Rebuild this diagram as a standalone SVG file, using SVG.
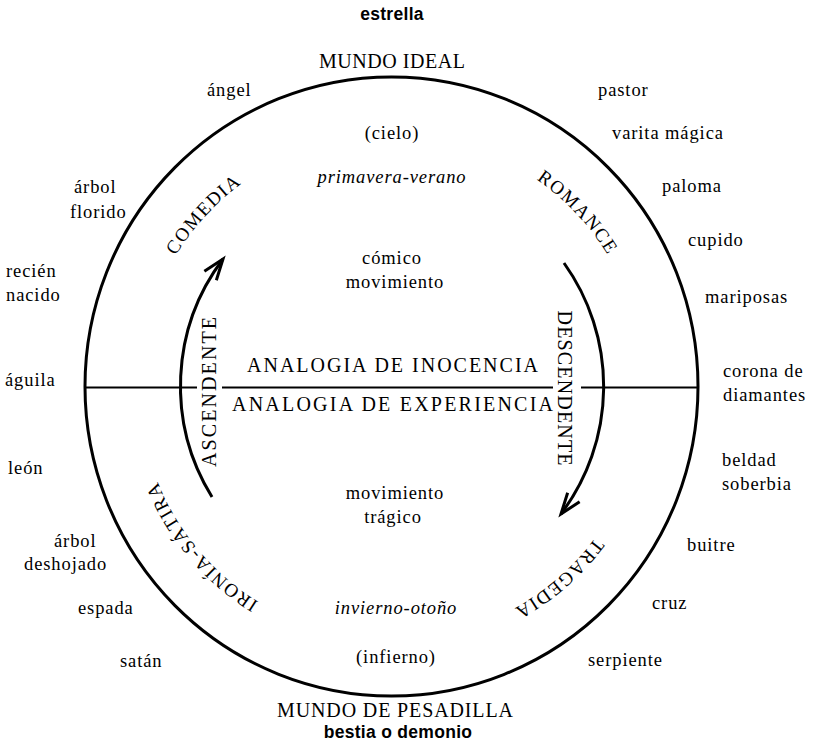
<svg xmlns="http://www.w3.org/2000/svg" width="813" height="745" viewBox="0 0 813 745">
<style>
.t{font-family:"Liberation Serif","Times New Roman",serif;font-size:18.5px;fill:#000;letter-spacing:0.9px}
.i{font-style:italic}
.c{text-anchor:middle}
.big{font-family:"Liberation Serif","Times New Roman",serif;font-size:20px;fill:#000}
.arc{font-family:"Liberation Serif","Times New Roman",serif;font-size:19px;fill:#000;letter-spacing:1.5px}
.b{font-family:"Liberation Sans",Arial,sans-serif;font-weight:bold;font-size:17.5px;fill:#000;text-anchor:middle;letter-spacing:0.3px}
.ln{fill:none;stroke:#000}
</style>
<defs>
<marker id="ah" markerUnits="userSpaceOnUse" markerWidth="30" markerHeight="30" viewBox="-16 -10 20 20" refX="0" refY="0" orient="auto">
<path d="M -14,-5 L 0,0 L -14,5" fill="none" stroke="#000" stroke-width="2"/>
</marker>
<path id="ring" d="M 645,387 A 253 253 0 1 1 139,387 A 253 253 0 1 1 645,387"/>
</defs>

<g id="frame">
<ellipse class="ln" cx="391.5" cy="386.5" rx="306.5" ry="309.5" stroke-width="3"/>
</g>

<g id="connectors">
<path class="ln" stroke-width="2.2" d="M 85,387.5 H 197 M 222,387.5 H 553 M 581,387.5 H 698"/>
<path class="ln" stroke-width="3" d="M 212,497 A 211 211 0 0 1 223,259" marker-end="url(#ah)"/>
<path class="ln" stroke-width="3" d="M 564,263 A 212 212 0 0 1 561,514" marker-end="url(#ah)"/>
</g>

<g id="top">
<text class="b" x="392" y="20">estrella</text>
<text class="big c" x="392" y="68" textLength="146" lengthAdjust="spacing">MUNDO IDEAL</text>
</g>
<g id="bottom">
<text class="big c" x="395" y="717" textLength="236" lengthAdjust="spacing">MUNDO DE PESADILLA</text>
<text class="b" x="398" y="738">bestia o demonio</text>
</g>

<g id="left-labels">
<text class="t" x="207" y="96">ángel</text>
<text class="t" x="74" y="193">árbol</text>
<text class="t" x="70" y="218">florido</text>
<text class="t" x="6" y="277">recién</text>
<text class="t" x="6" y="301">nacido</text>
<text class="t" x="5" y="386">águila</text>
<text class="t" x="8" y="474">león</text>
<text class="t" x="54" y="547">árbol</text>
<text class="t" x="24" y="570">deshojado</text>
<text class="t" x="78" y="614">espada</text>
<text class="t" x="120" y="667">satán</text>
</g>

<g id="right-labels">
<text class="t" x="598" y="96">pastor</text>
<text class="t" x="612" y="139">varita mágica</text>
<text class="t" x="662" y="192">paloma</text>
<text class="t" x="688" y="246">cupido</text>
<text class="t" x="705" y="303">mariposas</text>
<text class="t" x="723" y="377">corona de</text>
<text class="t" x="723" y="401">diamantes</text>
<text class="t" x="722" y="466">beldad</text>
<text class="t" x="722" y="490">soberbia</text>
<text class="t" x="687" y="551">buitre</text>
<text class="t" x="652" y="609">cruz</text>
<text class="t" x="588" y="666">serpiente</text>
</g>

<g id="inner">
<text class="t c" x="392" y="139">(cielo)</text>
<text class="t i c" x="392" y="183">primavera-verano</text>
<text class="t c" x="392" y="264">cómico</text>
<text class="t c" x="395" y="288">movimiento</text>
<text class="t c" x="395" y="499">movimiento</text>
<text class="t c" x="393" y="523">trágico</text>
<text class="t i c" x="396" y="614">invierno-otoño</text>
<text class="t c" x="396" y="663">(infierno)</text>
</g>

<g id="analogia">
<text class="big" x="247" y="372" textLength="291" lengthAdjust="spacing">ANALOGIA DE INOCENCIA</text>
<text class="big" x="232" y="411" textLength="321" lengthAdjust="spacing">ANALOGIA DE EXPERIENCIA</text>
</g>

<g id="directions">
<text class="big c" transform="translate(216,392) rotate(-90)" textLength="150" lengthAdjust="spacing">ASCENDENTE</text>
<text class="big c" transform="translate(558,388) rotate(90)" textLength="155" lengthAdjust="spacing">DESCENDENTE</text>
</g>

<g id="modes">
<text class="arc c"><textPath href="#ring" startOffset="61.8%">COMEDIA</textPath></text>
<text class="arc c"><textPath href="#ring" startOffset="88.0%">ROMANCE</textPath></text>
<text class="arc c"><textPath href="#ring" startOffset="13.6%">TRAGEDIA</textPath></text>
<text class="arc c"><textPath href="#ring" startOffset="38.9%">IRONÍA-SÁTIRA</textPath></text>
</g>
</svg>
